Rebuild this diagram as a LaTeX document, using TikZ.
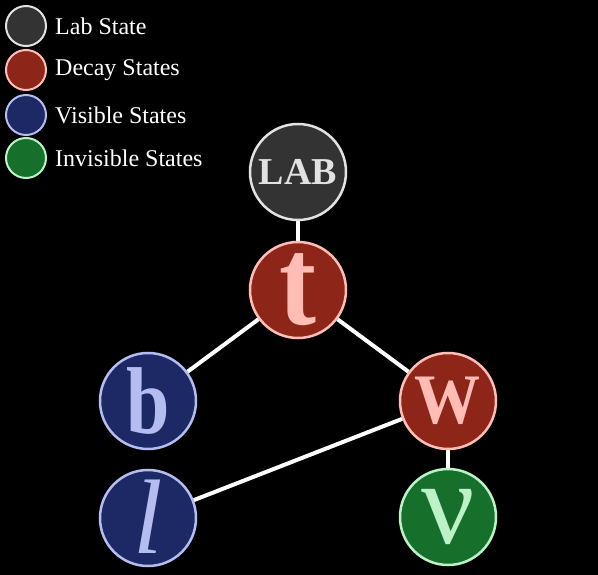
\documentclass[tikz,border=0pt]{standalone}
\usepackage{fontspec}
\setmainfont{Liberation Serif}
\newfontfamily\narrowserif[FakeStretch=0.82]{Liberation Serif}
\newfontfamily\tallserif[FakeStretch=0.88]{Liberation Serif}
\newfontfamily\wideserif[FakeStretch=0.93]{Liberation Serif}
\definecolor{labfill}{HTML}{333333}
\definecolor{labline}{HTML}{E2E2E2}
\definecolor{decfill}{HTML}{8E2519}
\definecolor{decline}{HTML}{FFBDB5}
\definecolor{visfill}{HTML}{1C2964}
\definecolor{visline}{HTML}{B4BCF0}
\definecolor{invfill}{HTML}{16702C}
\definecolor{invline}{HTML}{BCF2C6}

\begin{document}
\begin{tikzpicture}[x=1pt,y=-1pt,
    state/.style={circle, line width=2.5pt, minimum size=96pt, inner sep=0pt},
    key/.style={circle, line width=2pt, minimum size=40pt, inner sep=0pt},
    keytext/.style={anchor=west, text=white, font=\fontsize{24}{26}\selectfont, inner sep=0pt},
    lab/.style={fill=labfill, draw=labline, text=labline},
    decay/.style={fill=decfill, draw=decline, text=decline},
    visible/.style={fill=visfill, draw=visline, text=visline},
    invisible/.style={fill=invfill, draw=invline, text=invline},
    link/.style={draw=white, line width=4pt}]
    \fill[black] (0,0) rectangle (598,575);
    % legend
    \node[key, lab] (k1) at (26,26) {};
    \node[key, decay] (k2) at (26,70) {};
    \node[key, visible] (k3) at (26,115) {};
    \node[key, invisible] (k4) at (26,158) {};
    \node[keytext] (t1) at (55,26) {Lab State};
    \node[keytext] (t2) at (55,70) {Decay States};
    \node[keytext] (t3) at (55,115) {Visible States};
    \node[keytext] (t4) at (55,158) {Invisible States};
    % states
    \node[state, lab, font=\bfseries\fontsize{38}{40}\selectfont] (LAB) at (298,172) {LAB};
    \node[state, decay, font=\tallserif\bfseries\fontsize{126}{126}\selectfont] (t) at (298,290) {t};
    \node[state, visible, font=\narrowserif\bfseries\fontsize{95}{95}\selectfont] (b) at (148,401) {b};
    \node[state, decay, font=\wideserif\bfseries\fontsize{71}{71}\selectfont] (W) at (448,401) {W};
    \node[state, visible, font=\itshape\fontsize{106}{106}\selectfont, text depth=3pt] (l) at (148,518) {l};
    \node[state, invisible, font=\fontsize{118}{118}\selectfont] (nu) at (448,517) {ν};
    % links
    \draw[link] (LAB) -- (t);
    \draw[link] (t) -- (b);
    \draw[link] (t) -- (W);
    \draw[link] (W) -- (l);
    \draw[link] (W) -- (nu);
\end{tikzpicture}
\end{document}
